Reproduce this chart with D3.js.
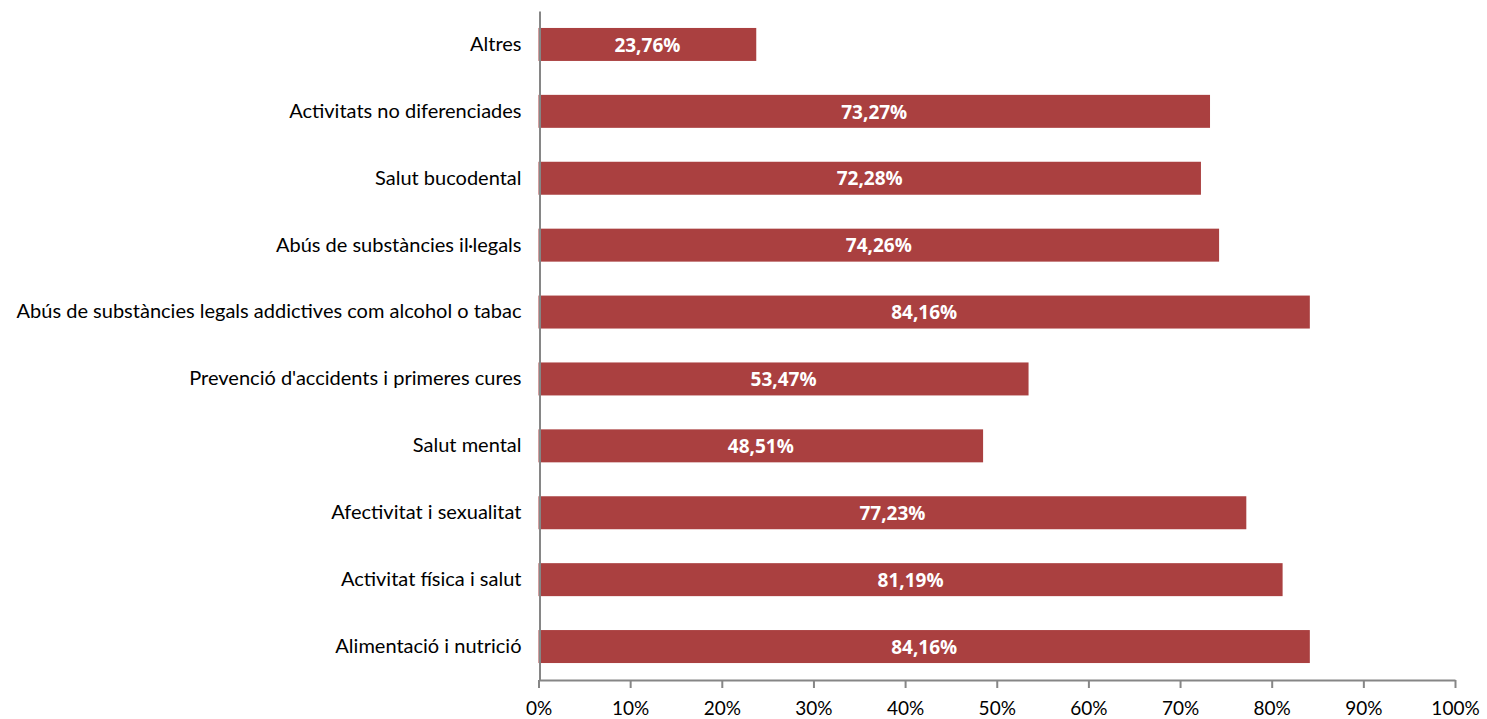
<!DOCTYPE html>
<html>
<head>
<meta charset="utf-8">
<script src="https://cdn.jsdelivr.net/npm/d3@7"></script>
<style>
  html, body { margin: 0; padding: 0; background: #fff; }
  svg { display: block; }
</style>
</head>
<body>
<svg id="chart" width="1487" height="719"></svg>
<script>
// Topics, listed top to bottom
const categories = [
  "Altres",
  "Activitats no diferenciades",
  "Salut bucodental",
  "Abús de substàncies il·legals",
  "Abús de substàncies legals addictives com alcohol o tabac",
  "Prevenció d'accidents i primeres cures",
  "Salut mental",
  "Afectivitat i sexualitat",
  "Activitat física i salut",
  "Alimentació i nutrició"
];
// Share of responses (%)
const values = [23.76, 73.27, 72.28, 74.26, 84.16, 53.47, 48.51, 77.23, 81.19, 84.16];
const tickValues = [0, 10, 20, 30, 40, 50, 60, 70, 80, 90, 100];

const svg = d3.select("#chart");
const plotLeft = 538.5, plotRight = 1455, plotTop = 11, plotBottom = 680;

const x = d3.scaleLinear().domain([0, 100]).range([plotLeft, plotRight]);
const y = d3.scaleBand().domain(categories).range([plotTop, plotBottom]).paddingInner(0.507).paddingOuter(0.2535);

const fmt = v => v.toFixed(2).replace(".", ",") + "%";

// Bars
svg.append("g").selectAll("rect")
  .data(values)
  .join("rect")
  .attr("x", x(0))
  .attr("y", (d, i) => y(categories[i]))
  .attr("width", d => x(d) - x(0))
  .attr("height", y.bandwidth())
  .attr("fill", "#aa4040");

// Value labels inside bars
svg.append("g").selectAll("text")
  .data(values)
  .join("text")
  .attr("x", d => (x(0) + x(d)) / 2)
  .attr("y", (d, i) => y(categories[i]) + y.bandwidth() / 2)
  .attr("dy", "0.38em")
  .attr("text-anchor", "middle")
  .attr("fill", "#fff")
  .style("font-family", "'Open Sans', sans-serif")
  .style("font-weight", "bold")
  .style("font-size", "19px")
  .text(fmt);

// Horizontal axis
const xAxis = d3.axisBottom(x)
  .tickValues(tickValues)
  .tickFormat(d => d + "%")
  .tickSize(8)
  .tickSizeOuter(0);
const gx = svg.append("g").attr("transform", `translate(0,${plotBottom})`).call(xAxis);
gx.select(".domain").attr("stroke", "#868686").attr("stroke-width", 2);
gx.selectAll(".tick line").attr("stroke", "#868686").attr("stroke-width", 2);
gx.selectAll(".tick text")
  .style("font-family", "Lato, sans-serif")
  .style("font-size", "19px")
  .attr("fill", "#000")
  .attr("y", 22);

// Vertical axis with category labels
const yAxis = d3.axisLeft(y).tickSize(0).tickPadding(18);
const gy = svg.append("g").attr("transform", `translate(${x(0) + 1},0)`).call(yAxis);
gy.select(".domain").attr("stroke", "#868686").attr("stroke-width", 2);
gy.selectAll(".tick text")
  .style("font-family", "Lato, sans-serif")
  .style("font-size", "20px")
  .attr("fill", "#000");
</script>
</body>
</html>
